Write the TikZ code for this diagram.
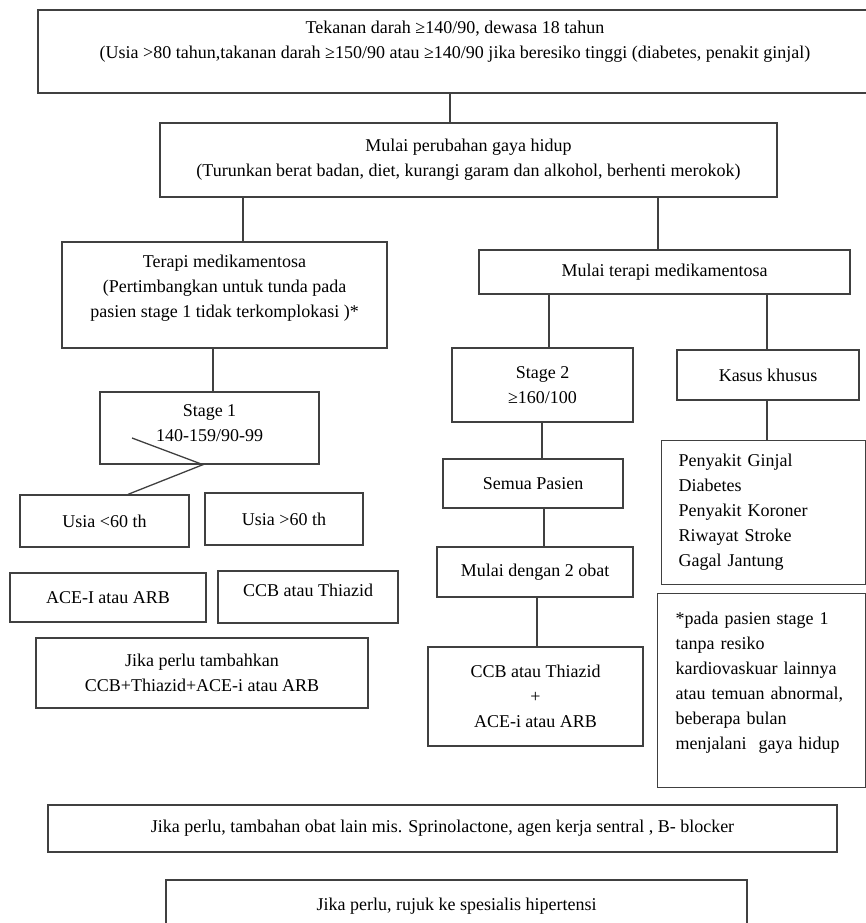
\documentclass[tikz,border=0pt]{standalone}
\usepackage{fontspec}
\setmainfont{Liberation Serif}
\usepackage{tikz}
\newcommand{\lowpad}[1]{\rule[-#1pt]{0pt}{#1pt}}

\begin{document}
\begin{tikzpicture}[x=1pt,y=-1pt,
    every node/.style={align=center,font=\fontsize{18}{25}\selectfont,text=black},
    box/.style={draw=black!75,line width=1.3pt,inner sep=0pt},
    link/.style={draw=black!75,line width=1.3pt}]
    \useasboundingbox (0,0) rectangle (866,923);

    \node[box,minimum width=834pt,minimum height=83pt] (top) at (455,51.5)
        {Tekanan darah ≥140/90, dewasa 18 tahun\\(Usia >80 tahun,takanan darah ≥150/90 atau ≥140/90 jika beresiko tinggi (diabetes, penakit ginjal)\lowpad{24}};
    \node[box,minimum width=617pt,minimum height=74pt] (hidup) at (468.5,160)
        {Mulai perubahan gaya hidup\\(Turunkan berat badan, diet, kurangi garam dan alkohol, berhenti merokok)};

    \node[box,minimum width=325pt,minimum height=106pt] (terapi) at (224.5,295)
        {Terapi medikamentosa\\(Pertimbangkan untuk tunda pada\\pasien stage 1 tidak terkomplokasi )*\lowpad{17}};
    \node[box,minimum width=219pt,minimum height=72pt] (stage1) at (209.5,428)
        {Stage 1\\140-159/90-99\lowpad{10}};
    \node[box,minimum width=169pt,minimum height=52pt] (usia1) at (104.5,521) {Usia <60 th};
    \node[box,minimum width=158pt,minimum height=52pt] (usia2) at (284,519) {Usia >60 th};
    \node[box,minimum width=196pt,minimum height=49pt] (acearb) at (108,597.5) {ACE-I atau ARB};
    \node[box,minimum width=180pt,minimum height=52pt] (ccbthz) at (308,597) {CCB atau Thiazid\lowpad{14}};
    \node[box,minimum width=332pt,minimum height=70pt] (tambah) at (202,673)
        {Jika perlu tambahkan\\CCB+Thiazid+ACE-i atau ARB};

    \node[box,minimum width=371pt,minimum height=44pt] (mt) at (664.5,272) {Mulai terapi medikamentosa};
    \node[box,minimum width=181pt,minimum height=74pt] (stage2) at (542.5,385) {Stage 2\\≥160/100};
    \node[box,minimum width=182pt,minimum height=50pt] (kasus) at (768,375) {Kasus khusus};
    \node[box,minimum width=180pt,minimum height=49pt] (semua) at (533,483.5) {Semua Pasien};
    \node[box,minimum width=196pt,minimum height=50pt] (obat2) at (535,572) {Mulai dengan 2 obat};
    \node[box,minimum width=215pt,minimum height=99pt] (ccbace) at (535.5,696.5)
        {CCB atau Thiazid\\+\\ACE-i atau ARB};

    \node[box,align=left,anchor=north west,text width=170pt,inner xsep=17pt,minimum height=144pt] (penyakit) at (661,440)
        {Penyakit Ginjal\\Diabetes\\Penyakit Koroner\\Riwayat Stroke\\Gagal Jantung};
    \node[box,align=left,anchor=north west,text width=172pt,inner xsep=18pt,minimum height=194pt] (catatan) at (657,593)
        {*pada pasien stage 1\\tanpa resiko\\kardiovaskuar lainnya\\atau temuan abnormal,\\beberapa bulan\\menjalani\ \ gaya hidup\lowpad{20}};

    \node[box,minimum width=789pt,minimum height=47pt] (lain) at (442.5,828.5)
        {Jika perlu, tambahan obat lain mis. Sprinolactone, agen kerja sentral , B- blocker};
    \node[box,minimum width=581pt,minimum height=52pt] (rujuk) at (456.5,906)
        {Jika perlu, rujuk ke spesialis hipertensi};

    \draw[link] (top.south -| 450,0) -- (hidup.north -| 450,0);
    \draw[link] (hidup.south -| 243,0) -- (terapi.north -| 243,0);
    \draw[link] (hidup.south -| 658,0) -- (mt.north -| 658,0);
    \draw[link] (terapi.south -| 213,0) -- (stage1.north -| 213,0);
    \coordinate (vstart) at (132,438);
    \draw[link] (vstart) -- (stage1.south -| 203,0) -- (usia1.north -| 128,0);
    \draw[link] (mt.south -| 549,0) -- (stage2.north -| 549,0);
    \draw[link] (mt.south -| 767,0) -- (kasus.north -| 767,0);
    \draw[link] (kasus.south -| 767,0) -- (penyakit.north -| 767,0);
    \draw[link] (stage2.south -| 542,0) -- (semua.north -| 542,0);
    \draw[link] (semua.south -| 544,0) -- (obat2.north -| 544,0);
    \draw[link] (obat2.south -| 537,0) -- (ccbace.north -| 537,0);
\end{tikzpicture}
\end{document}
